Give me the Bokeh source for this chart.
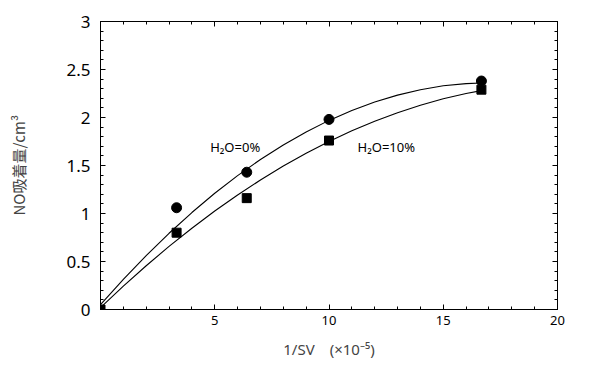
from bokeh.plotting import figure
from bokeh.models import LinearAxis, SingleIntervalTicker, FixedTicker, Range1d, ColumnDataSource
from bokeh.core.properties import value
from bokeh.embed import file_html
from bokeh.resources import INLINE

# measured points
sv_inv = [0, 3.33, 6.4, 10.0, 16.67]
no_h2o0 = [None, 1.06, 1.43, 1.98, 2.38]
no_h2o10 = [0.0, 0.80, 1.16, 1.76, 2.29]

# fitted curves
curve_x = [0, 1, 2, 3, 4, 5, 6, 7, 8, 9, 10, 11, 12, 13, 14, 15, 16, 16.67]
curve_h2o0 = [0.05, 0.314, 0.562, 0.794, 1.010, 1.211, 1.395, 1.563, 1.714, 1.850,
              1.970, 2.074, 2.162, 2.233, 2.289, 2.330, 2.353, 2.36]
curve_h2o10 = [0.02, 0.243, 0.456, 0.657, 0.846, 1.026, 1.193, 1.349, 1.494, 1.628,
               1.750, 1.861, 1.961, 2.050, 2.127, 2.195, 2.250, 2.28]

# axis ticks
x_major = [5, 10, 15, 20]
x_minor = list(range(0, 21))

labels_text = ["H₂O=0%", "H₂O=10%"]
labels_x = [4.8, 11.25]
labels_y = [1.69, 1.69]

FONT = "Noto Sans"

p = figure(width=600, height=377, output_backend="svg", toolbar_location=None,
           x_range=Range1d(0, 20), y_range=Range1d(0, 3))
p.min_border_left = 100
p.min_border_right = 43
p.min_border_top = 21
p.min_border_bottom = 68
p.xgrid.visible = False
p.ygrid.visible = False
p.outline_line_color = "black"
p.outline_line_width = 1
p.background_fill_color = "white"
p.border_fill_color = "white"

for ax in p.xaxis:
    ax.ticker = FixedTicker(ticks=x_major, minor_ticks=x_minor)
for ax in p.yaxis:
    ax.ticker = SingleIntervalTicker(interval=0.5, num_minor_ticks=5)

def style(ax):
    ax.axis_line_color = "black"
    ax.major_tick_in = 5
    ax.major_tick_out = 0
    ax.minor_tick_in = 3
    ax.minor_tick_out = 0
    ax.major_tick_line_color = "black"
    ax.minor_tick_line_color = "black"

for ax in p.xaxis + p.yaxis:
    style(ax)

p.xaxis.major_label_text_font = FONT
p.xaxis.major_label_text_font_size = "13px"
p.xaxis.major_label_text_color = "black"
p.xaxis.major_label_standoff = 6
p.xaxis.axis_label = "1/SV\u2003(×10⁻⁵)"
p.xaxis.axis_label_text_font = FONT
p.xaxis.axis_label_text_font_size = "15px"
p.xaxis.axis_label_text_font_style = "normal"
p.xaxis.axis_label_standoff = 11

p.yaxis.major_label_text_font = FONT
p.yaxis.major_label_text_font_size = "17px"
p.yaxis.major_label_text_color = "black"
p.yaxis.major_label_standoff = 10
p.yaxis.axis_label = "NO吸着量/cm³"
p.yaxis.axis_label_text_font = "Noto Sans CJK JP"
p.yaxis.axis_label_text_font_size = "15px"
p.yaxis.axis_label_text_font_style = "normal"
p.yaxis.axis_label_standoff = 34

top = LinearAxis(ticker=FixedTicker(ticks=x_major, minor_ticks=x_minor))
right = LinearAxis(ticker=SingleIntervalTicker(interval=0.5, num_minor_ticks=5))
for ax in (top, right):
    style(ax)
    ax.major_label_text_color = None
    ax.major_label_text_font_size = "1px"
    ax.major_label_standoff = 0
p.add_layout(top, "above")
p.add_layout(right, "right")

p.line(curve_x, curve_h2o0, line_color="black", line_width=1.1)
p.line(curve_x, curve_h2o10, line_color="black", line_width=1.1)

src0 = ColumnDataSource(dict(x=sv_inv[1:], y=no_h2o0[1:]))
p.scatter("x", "y", source=src0, marker="circle", size=10, fill_color="black", line_color="black")
src1 = ColumnDataSource(dict(x=sv_inv, y=no_h2o10))
p.scatter("x", "y", source=src1, marker="square", size=9, fill_color="black", line_color="black")

p.text(x=labels_x, y=labels_y, text=labels_text, text_font=value(FONT),
       text_font_size="13px", text_color="black", text_baseline="middle", text_align="left")

open("out.html", "w").write(file_html(p, INLINE))
